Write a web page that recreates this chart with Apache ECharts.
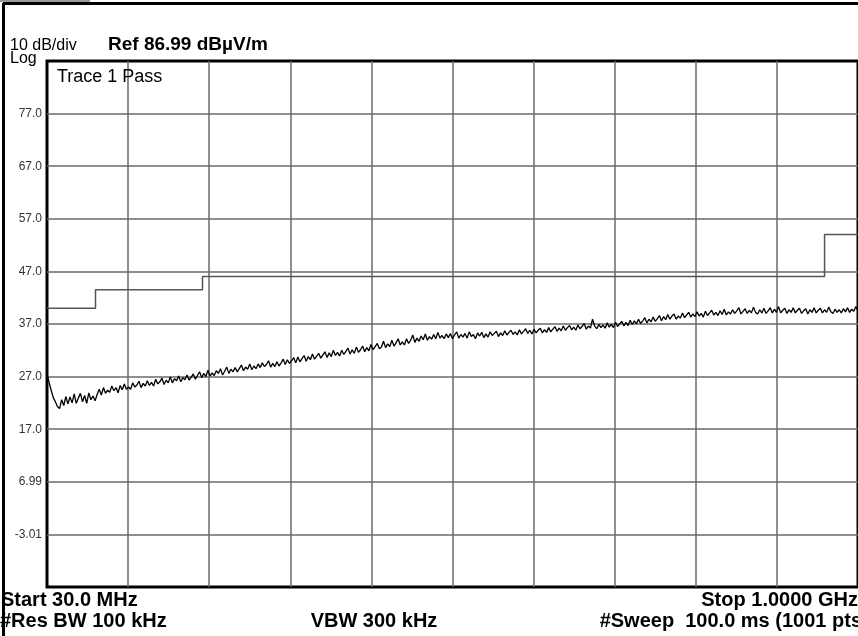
<!DOCTYPE html>
<html>
<head>
<meta charset="utf-8">
<script src="https://cdn.jsdelivr.net/npm/echarts@6/dist/echarts.min.js"></script>
<style>
  html, body { margin: 0; padding: 0; background: #fff; }
  #chart { width: 858px; height: 636px; }
</style>
</head>
<body>
<div id="chart"></div>
<script>
// sweep settings
const START_MHZ = 30;
const STOP_MHZ = 1000;
const TRACE_STEP_MHZ = 2.5;
const REF_LEVEL = 86.99;
const DB_PER_DIV = 10;
const DIVS = 10;

// trace 1, dBuV/m, one value every 2.5 MHz from 30 MHz (10 per row = 25 MHz)
const traceLevels = [
  27.6, 25.9, 24.4, 23.0, 22.2, 21.3, 20.9, 22.6, 21.5, 23.2,
  21.8, 23.1, 22.0, 23.7, 21.9, 22.9, 23.8, 22.2, 23.4, 21.9,
  23.9, 22.6, 23.3, 22.4, 23.6, 24.6, 23.5, 24.9, 23.8, 24.4,
  24.0, 25.2, 24.3, 24.9, 23.9, 25.3, 24.5, 25.6, 24.6, 25.0,
  24.6, 25.8, 25.0, 25.4, 26.1, 24.9, 25.7, 25.2, 26.2, 25.3,
  25.9, 25.2, 26.5, 25.6, 26.0, 26.7, 25.5, 26.3, 25.8, 26.9,
  25.8, 26.6, 26.2, 27.1, 26.0, 26.8, 26.4, 27.3, 26.3, 26.9,
  27.5, 26.5, 27.2, 27.9, 26.8, 27.6, 27.0, 28.2, 27.1, 27.7,
  27.2, 28.1, 27.6, 28.5, 27.3, 28.0, 28.8, 27.6, 28.4, 27.9,
  28.7, 27.9, 28.5, 29.2, 28.1, 28.8, 28.4, 29.4, 28.3, 29.0,
  28.5, 29.4, 28.7, 29.6, 28.9, 29.3, 30.0, 28.8, 29.5, 28.9,
  29.8, 29.0, 29.6, 30.3, 29.3, 30.2, 29.5, 30.0, 30.6, 29.6,
  30.7, 29.8, 30.4, 31.0, 29.9, 30.8, 30.2, 31.3, 30.3, 30.9,
  31.4, 30.5, 31.1, 31.7, 30.6, 31.5, 30.8, 32.0, 31.0, 31.6,
  30.9, 32.0, 31.2, 31.8, 32.4, 31.3, 32.1, 31.4, 32.6, 31.6,
  32.1, 32.8, 31.7, 32.5, 31.9, 33.1, 32.1, 32.7, 33.3, 32.3,
  32.6, 33.7, 32.5, 33.2, 32.7, 33.9, 32.8, 33.4, 34.2, 33.0,
  33.6, 33.0, 34.2, 33.3, 33.9, 34.9, 33.5, 34.3, 33.7, 34.7,
  34.0, 35.1, 33.9, 34.6, 34.1, 35.0, 34.2, 35.4, 34.3, 34.8,
  34.2, 35.1, 34.4, 35.2, 34.2, 34.9, 35.5, 34.3, 35.0, 34.5,
  35.2, 34.3, 35.5, 34.6, 35.0, 34.2, 35.3, 34.7, 35.4, 34.4,
  35.1, 34.5, 35.5, 34.8, 35.2, 35.6, 34.6, 35.3, 34.8, 35.7,
  34.9, 35.4, 35.8, 35.0, 35.5, 34.9, 35.9, 35.1, 35.6, 36.1,
  35.2, 35.8, 35.1, 36.0, 35.3, 35.8, 36.2, 35.3, 35.9, 35.4,
  36.3, 35.5, 36.0, 36.5, 35.6, 36.2, 35.7, 36.6, 35.8, 36.3,
  36.7, 35.9, 36.4, 35.8, 36.8, 36.1, 36.5, 37.1, 36.0, 36.6,
  36.2, 37.9, 36.6, 36.1, 36.9, 36.3, 36.8, 36.2, 37.2, 36.4,
  36.9, 36.3, 37.3, 36.5, 37.0, 37.5, 36.6, 37.3, 36.7, 37.7,
  36.9, 37.6, 37.0, 37.9, 37.1, 37.6, 38.2, 37.2, 37.9, 37.4,
  38.3, 37.5, 38.0, 38.6, 37.6, 38.4, 37.8, 38.8, 37.9, 38.5,
  38.9, 37.9, 38.5, 38.1, 39.1, 38.2, 38.7, 39.2, 38.3, 38.9,
  38.4, 39.3, 38.5, 39.0, 38.3, 39.4, 38.6, 39.1, 39.6, 38.7,
  39.2, 38.6, 39.5, 38.8, 39.8, 38.7, 39.3, 38.9, 39.7, 39.0,
  39.5, 40.1, 38.9, 39.4, 39.9, 39.0, 39.6, 39.1, 40.2, 39.2,
  38.9, 39.7, 39.1, 40.0, 39.0, 39.5, 40.1, 39.1, 39.8, 39.2,
  40.3, 39.1, 39.6, 40.0, 39.0, 39.7, 39.2, 40.1, 39.1, 39.6,
  40.0, 39.0, 39.5, 39.9, 38.9, 39.7, 39.2, 40.1, 39.1, 39.6,
  40.0, 39.1, 39.7, 39.2, 40.2, 39.3, 39.0, 39.8, 39.2, 39.7,
  39.1, 39.9, 39.3, 40.1, 39.2, 39.8, 39.4, 40.3, 39.5
];

// limit line (FCC class B), band edges in MHz and level per band
const limitEdges = [30, 88, 216, 960, 1000];
const limitLevels = [40, 43.5, 46, 54];

const bottom = REF_LEVEL - DB_PER_DIV * DIVS;
const toY = v => v - bottom;

const traceData = traceLevels.map((v, i) => [i * TRACE_STEP_MHZ, toY(v)]);
const limitData = limitEdges.map((f, i) => [f - START_MHZ, toY(limitLevels[Math.min(i, limitLevels.length - 1)])]);

const FONT = '"Liberation Sans", Arial, sans-serif';

const myChart = echarts.init(document.getElementById('chart'));
myChart.setOption({
  animation: false,
  backgroundColor: '#fff',
  grid: {
    left: 47,
    top: 61,
    right: -6,
    height: 526,
    show: true,
    borderColor: '#000',
    borderWidth: 3
  },
  xAxis: {
    type: 'value',
    min: 0,
    max: STOP_MHZ - START_MHZ,
    interval: (STOP_MHZ - START_MHZ) / DIVS,
    axisLine: { show: false },
    axisTick: { show: false },
    axisLabel: { show: false },
    splitLine: {
      show: true,
      showMinLine: false,
      showMaxLine: false,
      lineStyle: { color: '#6a6a6a', width: 1.5 }
    }
  },
  yAxis: {
    type: 'value',
    min: 0,
    max: DB_PER_DIV * DIVS,
    interval: DB_PER_DIV,
    axisLine: { show: false },
    axisTick: { show: false },
    axisLabel: {
      showMinLabel: false,
      showMaxLabel: false,
      margin: 5,
      color: '#333',
      fontFamily: FONT,
      fontSize: 12,
      formatter: v => (v + bottom).toPrecision(3)
    },
    splitLine: {
      show: true,
      showMinLine: false,
      showMaxLine: false,
      lineStyle: { color: '#6a6a6a', width: 1.5 }
    }
  },
  series: [
    {
      name: 'Limit',
      type: 'line',
      step: 'end',
      data: limitData,
      symbol: 'none',
      lineStyle: { color: '#555', width: 1.5 },
      z: 3
    },
    {
      name: 'Trace 1',
      type: 'line',
      data: traceData,
      symbol: 'none',
      lineStyle: { color: '#000', width: 1.3 },
      z: 4
    }
  ],
  graphic: [
    { type: 'rect', shape: { x: 0, y: 0, width: 90, height: 2 }, style: { fill: '#999' } },
    { type: 'line', shape: { x1: 3, y1: 3.5, x2: 858, y2: 3.5 }, style: { stroke: '#000', lineWidth: 3 } },
    { type: 'line', shape: { x1: 3.5, y1: 3, x2: 3.5, y2: 636 }, style: { stroke: '#000', lineWidth: 3 } },
    { type: 'text', x: 10, y: 46, style: { text: '10 dB/div', font: '16px ' + FONT, fill: '#000', textVerticalAlign: 'middle' } },
    { type: 'text', x: 10, y: 59, style: { text: 'Log', font: '16px ' + FONT, fill: '#000', textVerticalAlign: 'middle' } },
    { type: 'text', x: 108, y: 45, style: { text: 'Ref 86.99 dBµV/m', font: 'bold 19px ' + FONT, fill: '#000', textVerticalAlign: 'middle' } },
    { type: 'text', x: 57, y: 77, z: 10, style: { text: 'Trace 1 Pass', font: '18px ' + FONT, fill: '#000', textVerticalAlign: 'middle' } },
    { type: 'text', x: 1, y: 600, style: { text: 'Start 30.0 MHz', font: 'bold 20px ' + FONT, fill: '#000', textVerticalAlign: 'middle' } },
    { type: 'text', x: 858, y: 600, style: { text: 'Stop 1.0000 GHz', font: 'bold 20px ' + FONT, fill: '#000', textAlign: 'right', textVerticalAlign: 'middle' } },
    { type: 'text', x: 0, y: 621, style: { text: '#Res BW 100 kHz', font: 'bold 20px ' + FONT, fill: '#000', textVerticalAlign: 'middle' } },
    { type: 'text', x: 374, y: 621, style: { text: 'VBW 300 kHz', font: 'bold 20px ' + FONT, fill: '#000', textAlign: 'center', textVerticalAlign: 'middle' } },
    { type: 'text', x: 862, y: 621, style: { text: '#Sweep  100.0 ms (1001 pts', font: 'bold 20px ' + FONT, fill: '#000', textAlign: 'right', textVerticalAlign: 'middle' } }
  ]
});
</script>
</body>
</html>
